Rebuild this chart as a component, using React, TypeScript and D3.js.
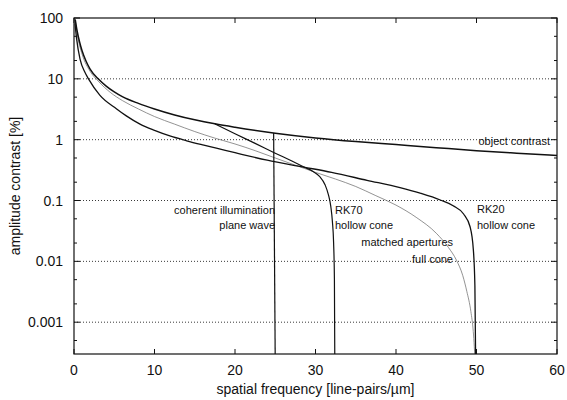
import React from 'react';
import * as d3 from 'd3';

// axis values
const xTicks = [0, 10, 20, 30, 40, 50, 60];
const yTicks = [100, 10, 1, 0.1, 0.01, 0.001];
const yTickLabels = ['100', '10', '1', '0.1', '0.01', '0.001'];
const gridValues = [10, 1, 0.1, 0.01, 0.001];
const yMinorTicks = [50, 20, 5, 2, 0.5, 0.2, 0.05, 0.02, 0.005, 0.002, 0.0005];

// curves: [spatial frequency, amplitude contrast %]
const objectContrast: [number, number][] = [
  [0.15, 95], [0.4, 60], [0.7, 40], [1, 29], [1.5, 19.5], [2, 14.5], [3, 10], [4, 7.6],
  [5, 6.1], [6, 5.1], [8, 3.95], [10, 3.2], [12.5, 2.55], [15, 2.12], [17.5, 1.82],
  [20, 1.6], [25, 1.28], [30, 1.07], [35, 0.93], [40, 0.83], [45, 0.74], [50, 0.66],
  [55, 0.6], [60, 0.55],
];

// coherent illumination follows the object contrast up to its cut-off
const coherentCutoff: [number, number][] = [[24.8, 1.29], [25.0, 0.0002]];

// RK70 hollow cone leaves the object contrast at ~17.5
const rk70: [number, number][] = [
  [17.5, 1.82], [20, 1.25], [22.5, 0.87], [25, 0.6], [27, 0.45], [28.5, 0.36], [29.7, 0.3],
  [30.5, 0.25], [31.2, 0.18], [31.6, 0.125], [31.9, 0.08], [32.1, 0.045], [32.25, 0.02],
  [32.35, 0.005], [32.4, 0.0002],
];

const rk20: [number, number][] = [
  [0.12, 82], [0.33, 45], [0.75, 21], [1.37, 12.7], [1.8, 10], [3.2, 5.4], [5.3, 3.2],
  [6.5, 2.46], [8.2, 1.8], [10, 1.42], [12, 1.14], [14, 0.96], [16, 0.82], [20, 0.61],
  [24, 0.46], [28.5, 0.355], [32, 0.29], [36.4, 0.215], [40.5, 0.163], [43, 0.132],
  [45.5, 0.102], [47.1, 0.082], [48.4, 0.06], [49.2, 0.037], [49.6, 0.016], [49.8, 0.004],
  [49.9, 0.0002],
];

const matchedApertures: [number, number][] = [
  [0.15, 93], [0.5, 46], [1, 25.5], [2, 13.3], [3, 9.2], [4.5, 6.0], [6, 4.4], [8, 3.2],
  [10, 2.4], [12.5, 1.8], [15, 1.36], [17.5, 1.06], [20, 0.85], [22.5, 0.66], [25, 0.5],
  [27.5, 0.38], [30, 0.29], [32.5, 0.225], [35, 0.17], [37.5, 0.12], [40, 0.084],
  [42.5, 0.053], [45, 0.029], [46.5, 0.017], [47.5, 0.0105], [48.3, 0.0058], [48.8, 0.0032],
  [49.3, 0.0015], [49.6, 0.0007], [49.85, 0.0002],
];

const W = 567, H = 400;
const margin = { top: 18, right: 10, bottom: 46, left: 74 };
const font = '"Liberation Sans", Arial, Helvetica, sans-serif';

function App() {
  const x = d3.scaleLinear().domain([0, 60]).range([margin.left, W - margin.right]);
  const y = d3.scaleLog().domain([0.0003, 100]).range([H - margin.bottom, margin.top]);
  const x0 = x(0), x1 = x(60), yb = y(0.0003), yt = y(100);

  const line = d3.line<[number, number]>()
    .x(d => x(d[0]))
    .y(d => y(d[1]))
    .curve(d3.curveMonotoneX);

  return (
    <svg width={W} height={H} style={{ position: 'absolute', left: 0, top: 0, background: '#fff' }}
      fontFamily={font}>
      <defs>
        <clipPath id="plot">
          <rect x={x0} y={yt} width={x1 - x0} height={yb - yt} />
        </clipPath>
      </defs>

      {/* dotted grid */}
      {gridValues.map(v => (
        <line key={'g' + v} x1={x0} x2={x1} y1={y(v)} y2={y(v)}
          stroke="#222" strokeWidth={0.9} strokeDasharray="1,2" />
      ))}

      {/* curves */}
      <g clipPath="url(#plot)" fill="none">
        <path d={line(matchedApertures) || ''} stroke="#777" strokeWidth={0.8} />
        <path d={line(rk20) || ''} stroke="#111" strokeWidth={1.3} />
        <path d={line(rk70) || ''} stroke="#111" strokeWidth={1.2} />
        <path d={line(coherentCutoff) || ''} stroke="#111" strokeWidth={1.2} />
        <path d={line(objectContrast) || ''} stroke="#111" strokeWidth={1.5} />
      </g>

      {/* frame */}
      <rect x={x0} y={yt} width={x1 - x0} height={yb - yt} fill="none" stroke="#111" strokeWidth={1.2} />

      {/* x ticks */}
      {xTicks.map(t => (
        <g key={'x' + t}>
          <line x1={x(t)} x2={x(t)} y1={yb} y2={yb - 5} stroke="#111" />
          <line x1={x(t)} x2={x(t)} y1={yt} y2={yt + 5} stroke="#111" />
          <text x={x(t)} y={yb + 21} fontSize={14} textAnchor="middle" fill="#111">{t}</text>
        </g>
      ))}

      {/* y ticks */}
      {yTicks.map((t, i) => (
        <g key={'y' + t}>
          <line x1={x0} x2={x0 + 6} y1={y(t)} y2={y(t)} stroke="#111" />
          <line x1={x1} x2={x1 - 6} y1={y(t)} y2={y(t)} stroke="#111" />
          <text x={63} y={y(t)} dy="0.36em" fontSize={14} textAnchor="end" fill="#111">{yTickLabels[i]}</text>
        </g>
      ))}
      {yMinorTicks.map(t => (
        <g key={'m' + t}>
          <line x1={x0} x2={x0 + 3} y1={y(t)} y2={y(t)} stroke="#111" />
          <line x1={x1} x2={x1 - 3} y1={y(t)} y2={y(t)} stroke="#111" />
        </g>
      ))}

      {/* axis titles */}
      <text x={(x0 + x1) / 2} y={394} fontSize={14} textAnchor="middle" fill="#111">
        spatial frequency [line-pairs/µm]
      </text>
      <text transform={`translate(20,${(yt + yb) / 2}) rotate(-90)`} fontSize={14} textAnchor="middle" fill="#111">
        amplitude contrast [%]
      </text>

      {/* annotations */}
      <g fontSize={11} fill="#111">
        <text x={550} y={145} textAnchor="end">object contrast</text>
        <text x={275} y={214} textAnchor="end">coherent illumination</text>
        <text x={275} y={229} textAnchor="end">plane wave</text>
        <text x={335} y={214}>RK70</text>
        <text x={335} y={229}>hollow cone</text>
        <text x={453} y={246} textAnchor="end">matched apertures</text>
        <text x={453} y={263} textAnchor="end">full cone</text>
        <text x={477} y={213}>RK20</text>
        <text x={477} y={229}>hollow cone</text>
      </g>
    </svg>
  );
}

export default App;
